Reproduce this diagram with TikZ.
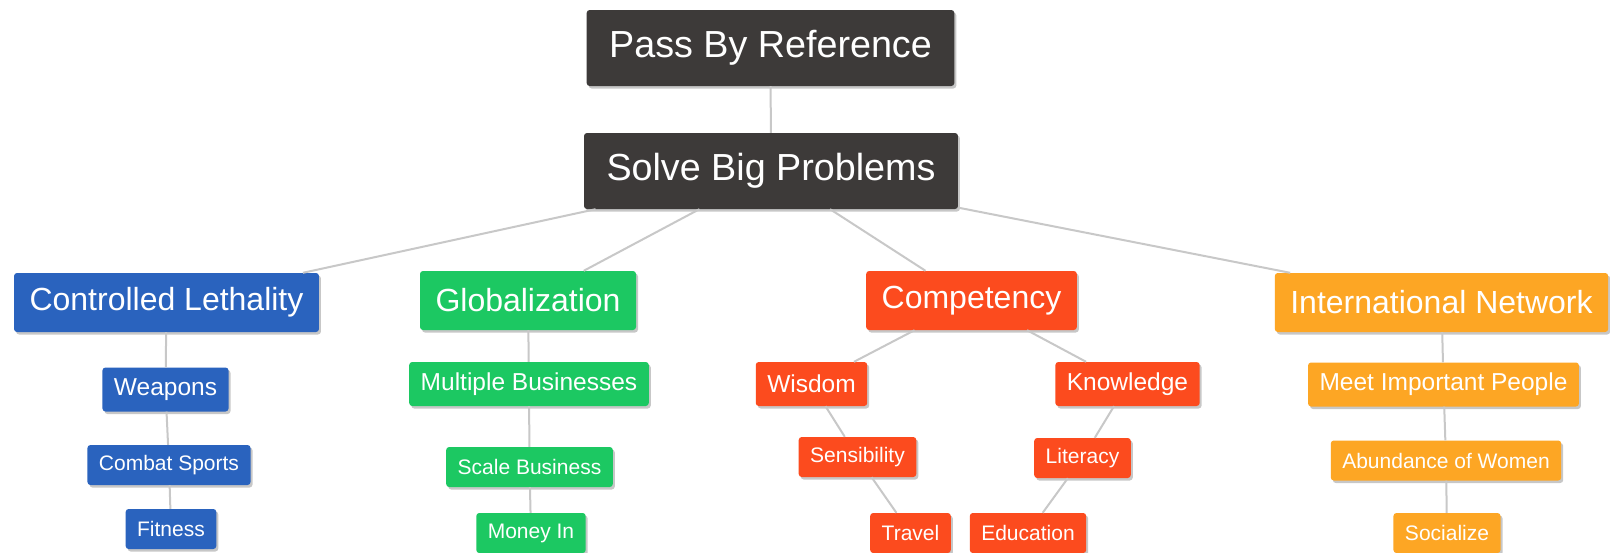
\documentclass[tikz,border=0pt]{standalone}
\usepackage{fontspec}
\newfontfamily\lib{Liberation Sans}
\usetikzlibrary{shadows}
\definecolor{cdark}{HTML}{3D3A39}
\definecolor{cblue}{HTML}{2A63BE}
\definecolor{cgreen}{HTML}{1CC862}
\definecolor{cred}{HTML}{FC4B1E}
\definecolor{camber}{HTML}{FDA624}
\definecolor{cedge}{HTML}{C8C8C8}
\tikzset{
  box/.style={rectangle, rounded corners=3pt, text=white, inner ysep=0pt,
    drop shadow={shadow xshift=2pt, shadow yshift=-2.5pt, opacity=0.22, fill=black}},
  lvzero/.style={box, fill=cdark, font=\lib\fontsize{37.7}{40}\selectfont, inner xsep=22.5pt, minimum height=76pt},
  lvone/.style={box, font=\lib\fontsize{32}{34}\selectfont, inner xsep=15.5pt, minimum height=59pt},
  lvtwo/.style={box, font=\lib\fontsize{24.5}{26}\selectfont, inner xsep=11.5pt, minimum height=44pt},
  lvthree/.style={box, font=\lib\fontsize{21}{23}\selectfont, inner xsep=11.5pt, minimum height=40pt},
  edge/.style={draw=cedge, line width=2pt},
  bl/.style={fill=cblue}, gr/.style={fill=cgreen}, rd/.style={fill=cred}, am/.style={fill=camber}
}
\begin{document}
\begin{tikzpicture}[x=1pt,y=-1pt]
\fill[white] (0,0) rectangle (1610,552);
\useasboundingbox (0,0) rectangle (1610,552);
% nodes
\node[lvzero] (pbr) at (770.5,48) {Pass By Reference};
\node[lvzero] (sbp) at (771,171) {Solve Big Problems};
\node[lvone,bl] (cl) at (166.5,302.5) {Controlled Lethality};
\node[lvone,gr] (gl) at (528,300.5) {Globalization};
\node[lvone,rd] (co) at (971.5,300.5) {Competency};
\node[lvone,am] (in) at (1441.5,302.5) {International Network};
\node[lvtwo,bl] (we) at (165.5,389.5) {Weapons};
\node[lvtwo,gr] (mb) at (529,384) {Multiple Businesses};
\node[lvtwo,rd] (wi) at (811.5,384) {Wisdom};
\node[lvtwo,rd] (kn) at (1127.5,384) {Knowledge};
\node[lvtwo,am] (mip) at (1443.5,384.5) {Meet Important People};
\node[lvthree,bl] (cs) at (169,465) {Combat Sports};
\node[lvthree,gr] (sb) at (529.5,467) {Scale Business};
\node[lvthree,rd] (se) at (857.5,457) {Sensibility};
\node[lvthree,rd] (li) at (1082.5,458) {Literacy};
\node[lvthree,am] (aw) at (1446,460.5) {Abundance of Women};
\node[lvthree,bl] (fi) at (171,529) {Fitness};
\node[lvthree,gr] (mi) at (531,533) {Money In};
\node[lvthree,rd] (tr) at (910.5,533) {Travel};
\node[lvthree,rd] (ed) at (1028,533) {Education};
\node[lvthree,am] (so) at (1447,533) {Socialize};
% edges
\begin{scope}[on background layer/.style={}]
\end{scope}
\draw[edge] (pbr) -- (sbp);
\draw[edge] (sbp) -- (cl);
\draw[edge] (sbp) -- (gl);
\draw[edge] (sbp) -- (co);
\draw[edge] (sbp) -- (in);
\draw[edge] (cl) -- (we);
\draw[edge] (we) -- (cs);
\draw[edge] (cs) -- (fi);
\draw[edge] (gl) -- (mb);
\draw[edge] (mb) -- (sb);
\draw[edge] (sb) -- (mi);
\draw[edge] (co) -- (wi);
\draw[edge] (wi) -- (se);
\draw[edge] (se) -- (tr);
\draw[edge] (co) -- (kn);
\draw[edge] (kn) -- (li);
\draw[edge] (li) -- (ed);
\draw[edge] (in) -- (mip);
\draw[edge] (mip) -- (aw);
\draw[edge] (aw) -- (so);
\end{tikzpicture}
\end{document}
